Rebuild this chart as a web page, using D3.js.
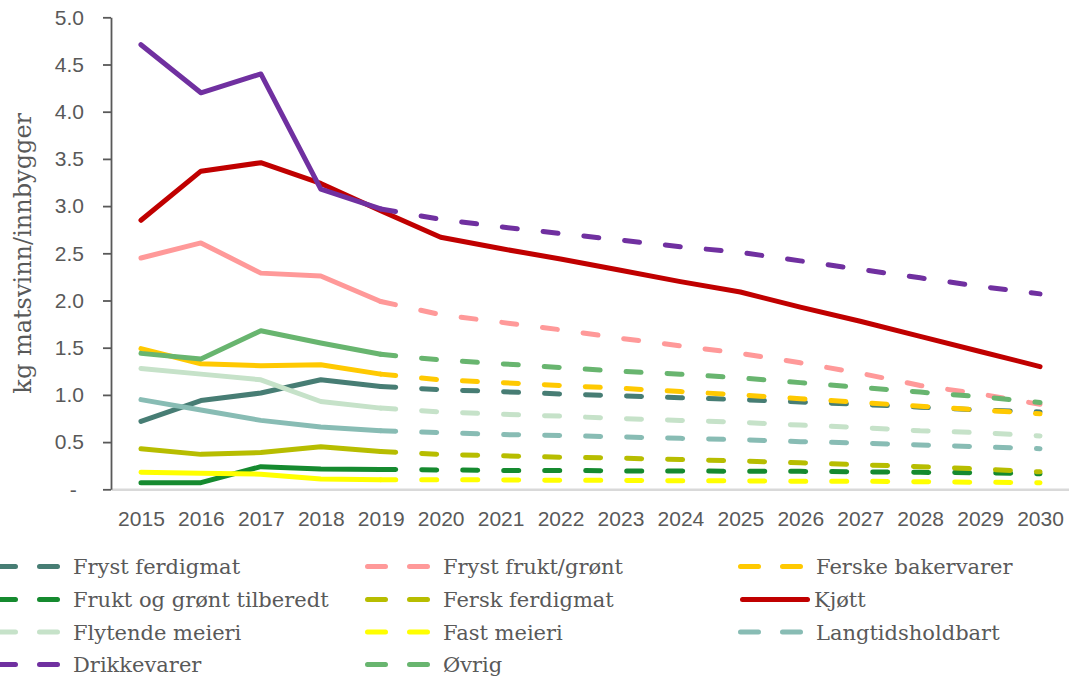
<!DOCTYPE html>
<html>
<head>
<meta charset="utf-8">
<script src="https://cdn.jsdelivr.net/npm/d3@7"></script>
<style>
  body { margin: 0; background: #fff; }
  svg { display: block; font-family: "DejaVu Serif", serif; }
  .axis text { fill: #595959; }
</style>
</head>
<body>
<div id="chart"></div>
<script>
// years on the category axis
const years = [2015, 2016, 2017, 2018, 2019, 2020, 2021, 2022, 2023, 2024, 2025, 2026, 2027, 2028, 2029, 2030];
const yTicks = [0, 0.5, 1, 1.5, 2, 2.5, 3, 3.5, 4, 4.5, 5];

// kg matsvinn per innbygger, 2015-2030 (2019 on = forecast)
const frystFerdigmat = [0.72, 0.94, 1.02, 1.16, 1.09, 1.055, 1.035, 1.01, 0.99, 0.97, 0.95, 0.925, 0.90, 0.87, 0.84, 0.82];
const frystFruktGront = [2.45, 2.61, 2.29, 2.26, 1.99, 1.85, 1.77, 1.69, 1.60, 1.52, 1.44, 1.34, 1.23, 1.10, 1.01, 0.90];
const ferskeBakervarer = [1.49, 1.33, 1.31, 1.32, 1.22, 1.16, 1.13, 1.10, 1.07, 1.035, 1.00, 0.96, 0.92, 0.88, 0.84, 0.80];
const fruktGrontTilberedt = [0.07, 0.07, 0.24, 0.215, 0.21, 0.205, 0.20, 0.20, 0.195, 0.195, 0.19, 0.19, 0.185, 0.18, 0.175, 0.165];
const ferskFerdigmat = [0.43, 0.37, 0.39, 0.45, 0.40, 0.37, 0.355, 0.34, 0.33, 0.315, 0.30, 0.28, 0.26, 0.24, 0.215, 0.185];
const kjott = [2.85, 3.37, 3.46, 3.24, 2.95, 2.67, 2.55, 2.44, 2.32, 2.20, 2.09, 1.93, 1.78, 1.62, 1.46, 1.30];
const flytendeMeieri = [1.28, 1.22, 1.16, 0.93, 0.86, 0.82, 0.795, 0.775, 0.75, 0.73, 0.71, 0.68, 0.655, 0.62, 0.60, 0.565];
const fastMeieri = [0.18, 0.17, 0.16, 0.11, 0.10, 0.10, 0.10, 0.095, 0.095, 0.09, 0.09, 0.085, 0.085, 0.08, 0.075, 0.07];
const langtidsholdbart = [0.95, 0.84, 0.73, 0.66, 0.62, 0.60, 0.58, 0.57, 0.555, 0.54, 0.525, 0.505, 0.49, 0.47, 0.45, 0.43];
const drikkevarer = [4.71, 4.20, 4.40, 3.18, 2.97, 2.86, 2.78, 2.71, 2.64, 2.57, 2.51, 2.42, 2.33, 2.24, 2.15, 2.07];
const ovrig = [1.44, 1.38, 1.68, 1.55, 1.43, 1.37, 1.33, 1.29, 1.25, 1.22, 1.18, 1.13, 1.08, 1.03, 0.98, 0.92];

const seriesNames = ["Fryst ferdigmat", "Fryst frukt/grønt", "Ferske bakervarer", "Frukt og grønt tilberedt",
  "Fersk ferdigmat", "Kjøtt", "Flytende meieri", "Fast meieri", "Langtidsholdbart", "Drikkevarer", "Øvrig"];
const seriesValues = [frystFerdigmat, frystFruktGront, ferskeBakervarer, fruktGrontTilberedt,
  ferskFerdigmat, kjott, flytendeMeieri, fastMeieri, langtidsholdbart, drikkevarer, ovrig];
const seriesColors = ["#477d74", "#ff9999", "#ffc901", "#158a2f", "#b7bd00", "#c00000",
  "#c6e2c9", "#ffff00", "#88bcb4", "#7030a0", "#68b56f"];
const solidAll = ["Kjøtt"];

const W = 1069, H = 677;
const margin = { top: 17.3, left: 111, right: -1, bottom: 187.7 };
const lineW = 5;

const svg = d3.select("#chart").append("svg")
  .attr("width", W).attr("height", H);

const x = d3.scalePoint()
  .domain(years)
  .range([margin.left, W - margin.right])
  .padding(0.5);

const y = d3.scaleLinear()
  .domain([0, 5])
  .range([H - margin.bottom, margin.top]);

// x axis (light grey baseline, no ticks)
const xAxis = svg.append("g")
  .attr("class", "axis x_axis")
  .attr("transform", `translate(0, ${y(0)})`)
  .call(d3.axisBottom(x).tickSize(0).tickSizeOuter(0).tickPadding(22));
xAxis.select(".domain").attr("stroke", "#d9d9d9").attr("stroke-width", 2.5);
xAxis.selectAll("text").attr("font-size", 21);

// y axis
const yAxis = svg.append("g")
  .attr("class", "axis y_axis")
  .attr("transform", `translate(${margin.left}, 0)`)
  .call(d3.axisLeft(y)
    .tickValues(yTicks)
    .tickSize(8)
    .tickSizeOuter(0)
    .tickPadding(19)
    .tickFormat(d => d === 0 ? "-" : d3.format(".1f")(d)));
yAxis.select(".domain").attr("stroke", "#595959").attr("stroke-width", 1.8);
yAxis.selectAll(".tick line").attr("stroke", "#595959").attr("stroke-width", 1.8);
yAxis.selectAll("text").attr("font-size", 21);
yAxis.selectAll(".tick text").filter(d => d === 0).attr("dx", "-0.35em");

// y axis title
svg.append("text")
  .attr("transform", `translate(31, ${(y(0) + y(5)) / 2}) rotate(-90)`)
  .attr("text-anchor", "middle")
  .attr("font-size", 24)
  .attr("fill", "#595959")
  .text("kg matsvinn/innbygger");

const lineGen = d3.line()
  .x(d => x(d.year))
  .y(d => y(d.value));

const plot = svg.append("g").attr("class", "lines");

seriesNames.forEach((name, i) => {
  const pts = years.map((yr, j) => ({ year: yr, value: seriesValues[i][j] }));
  if (solidAll.includes(name)) {
    plot.append("path")
      .datum(pts)
      .attr("fill", "none")
      .attr("stroke", seriesColors[i])
      .attr("stroke-width", lineW)
      .attr("stroke-linecap", "round")
      .attr("stroke-linejoin", "round")
      .attr("d", lineGen);
    return;
  }
  // forecast part, dashed
  plot.append("path")
    .datum(pts.filter(d => d.year >= 2019))
    .attr("fill", "none")
    .attr("stroke", seriesColors[i])
    .attr("stroke-width", lineW)
    .attr("stroke-linecap", "round")
    .attr("stroke-dasharray", "15,26")
    .attr("d", lineGen);
  // historic part, solid
  plot.append("path")
    .datum(pts.filter(d => d.year <= 2019))
    .attr("fill", "none")
    .attr("stroke", seriesColors[i])
    .attr("stroke-width", lineW)
    .attr("stroke-linecap", "round")
    .attr("stroke-linejoin", "round")
    .attr("d", lineGen);
});

// legend, 3 columns
const colX = [73, 443, 816];
const rowY = [566.5, 599.5, 632, 664.5];
const legend = svg.append("g").attr("class", "legend");

seriesNames.forEach((name, i) => {
  const tx = colX[i % 3], ty = rowY[Math.floor(i / 3)];
  const g = legend.append("g");
  if (solidAll.includes(name)) {
    g.append("line")
      .attr("x1", tx - 73.5).attr("x2", tx - 8.5)
      .attr("y1", ty).attr("y2", ty)
      .attr("stroke", seriesColors[i])
      .attr("stroke-width", lineW)
      .attr("stroke-linecap", "round");
  } else {
    g.append("line")
      .attr("x1", tx - 75.5).attr("x2", tx - 14.5)
      .attr("y1", ty).attr("y2", ty)
      .attr("stroke", seriesColors[i])
      .attr("stroke-width", lineW)
      .attr("stroke-linecap", "round")
      .attr("stroke-dasharray", "18,24");
  }
  g.append("text")
    .attr("x", solidAll.includes(name) ? tx - 2 : tx)
    .attr("y", ty + 7.5)
    .attr("font-size", 21)
    .attr("fill", "#595959")
    .text(name);
});
</script>
</body>
</html>
